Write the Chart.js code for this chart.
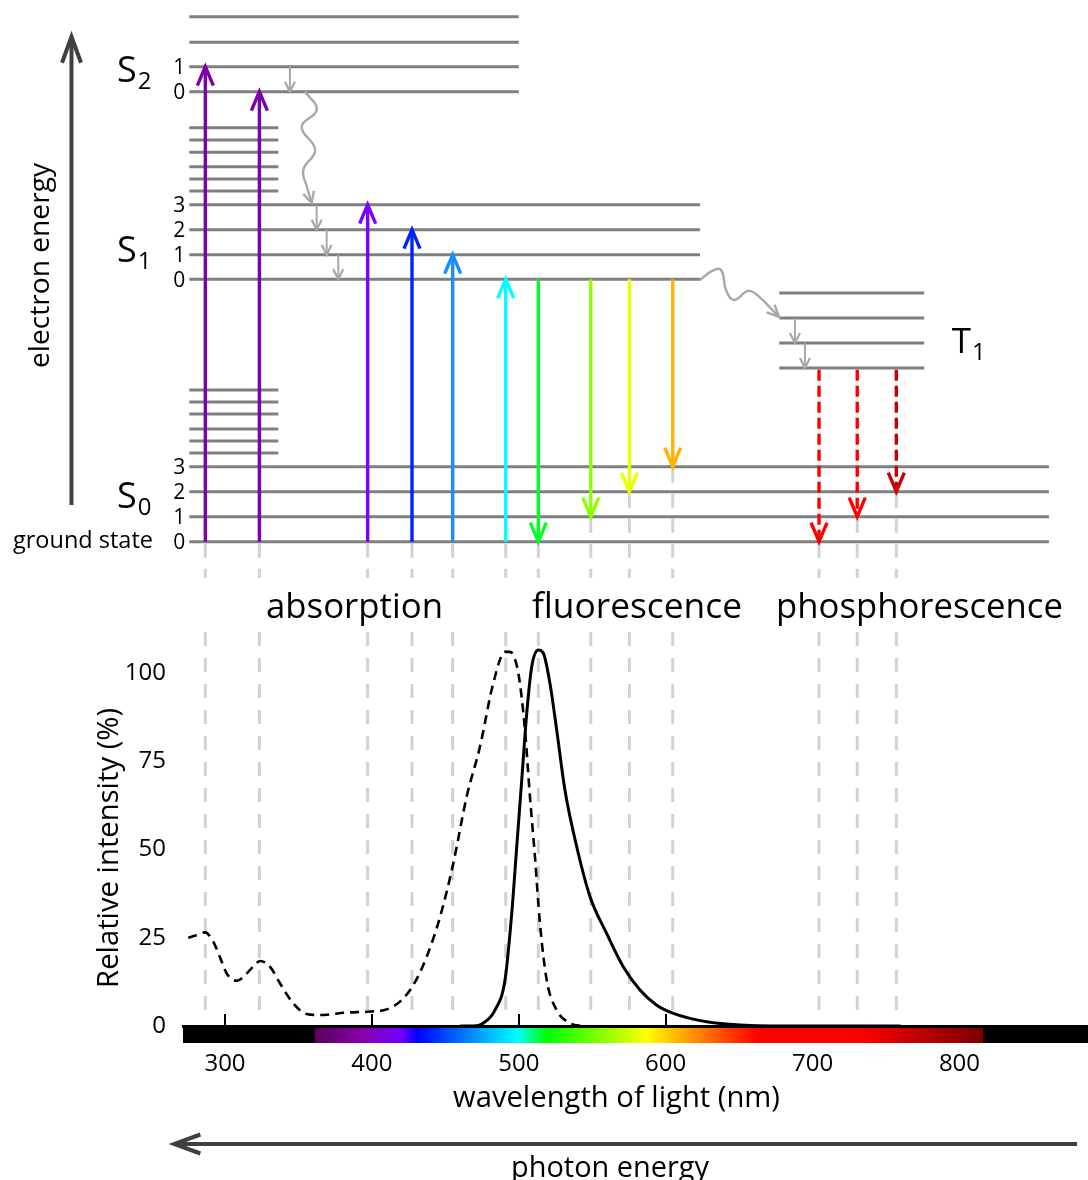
<!DOCTYPE html>
<html>
<head>
<meta charset="utf-8">
<style>
html,body{margin:0;padding:0;background:#ffffff;}
#wrap{width:1088px;height:1180px;position:relative;}
canvas{display:block;}
</style>
<script src="https://cdn.jsdelivr.net/npm/chart.js@4"></script>
</head>
<body>
<div id="wrap"><canvas id="c" width="1088" height="1180"></canvas></div>
<script>
// ---------------- DATA ----------------
// Energy levels (arbitrary energy units, S0 v=0 is 0)
const S0_levels = [0, 1, 2, 3];
const S1_levels = [10.5, 11.48, 12.48, 13.48];
const S2_levels = [18.0, 19.0, 19.98, 21.0];
const T1_levels = [6.95, 7.95, 8.95, 9.95];
const S0_upper = [3.55, 4.03, 4.51, 5.11, 5.59, 6.07];
const S1_upper = [14.03, 14.51, 15.0, 15.58, 16.07, 16.56];
const S0_labels = ['0', '1', '2', '3'];
const S1_labels = ['0', '1', '2', '3'];
const S2_labels = ['0', '1'];

// Horizontal extent of the level lines (wavelength axis, nm)
const levelStartNm = 275.7;
const S0_endNm = 860.9;
const S1_endNm = 623.4;
const S2_endNm = 500.0;
const upperEndNm = 336.3;
const T1_startNm = 677.3;
const T1_endNm = 776.0;

// Radiative transitions (wavelength nm, from energy, to energy)
const absorptionNm = [286.6, 323.4, 397.1, 427.3, 455.0, 491.1];
const absorptionFrom = [0, 0, 0, 0, 0, 0];
const absorptionTo = [19.0, 18.0, 13.48, 12.48, 11.48, 10.5];
const absorptionColors = ['#7d00a8', '#7d00a8', '#7a00ff', '#0022ff', '#1a8cff', '#00ffff'];

const fluorescenceNm = [513.3, 549.0, 575.3, 604.8];
const fluorescenceFrom = [10.5, 10.5, 10.5, 10.5];
const fluorescenceTo = [0, 1, 2, 3];
const fluorescenceColors = ['#00ff22', '#8cff00', '#eaff00', '#ffb400'];

const phosphorescenceNm = [704.4, 730.4, 757.0];
const phosphorescenceFrom = [6.88, 6.88, 6.88];
const phosphorescenceTo = [0, 1, 2];
const phosphorescenceColors = ['#ff0000', '#ff0000', '#c80000'];

// Vibrational relaxation (small grey arrows)
const relaxNm = [344.2, 362.4, 369.2, 377.1, 688.0, 694.8];
const relaxFrom = [19.0, 13.48, 12.48, 11.48, 8.95, 7.95];
const relaxTo = [18.0, 12.48, 11.48, 10.5, 7.95, 6.95];

// Internal conversion S2 -> S1 (wavy)
const icNm = [354.5, 362.4, 352.2, 361.3, 353.3, 355.8, 359.0];
const icE = [18.0, 17.27, 16.6, 15.67, 14.87, 14.19, 13.55];
// Intersystem crossing S1 -> T1 (wavy)
const iscNm = [623.4, 631.6, 637.7, 641.1, 646.5, 656.1, 662.2, 677.2];
const iscE = [10.47, 10.83, 10.87, 10.07, 9.67, 10.03, 9.87, 8.99];

// Spectra (wavelength nm, relative intensity %)
const absorbanceNm = [275, 280, 286.4, 292, 297, 301.1, 308, 314.8, 320, 323.8, 330.6, 337.4, 346.5, 355.6, 364.7, 382.8, 398.7, 410, 419.1, 428.2, 437.3, 446.4, 455.4, 464.5, 473.6, 482.6, 490.6, 494, 499.7, 504.2, 507.6, 511, 514.4, 519, 525.8, 534.9, 543.9];
const absorbanceVal = [25.0, 25.6, 26.5, 23.9, 19.0, 14.9, 12.8, 14.9, 17.2, 18.4, 16.8, 12.1, 6.4, 3.4, 3.1, 3.8, 4.1, 4.7, 6.9, 11.6, 19.6, 30.9, 46.0, 64.9, 79.1, 97.0, 105.9, 105.9, 99.8, 83.8, 64.9, 47.9, 29.1, 13.0, 4.5, 0.8, 0];
const emissionNm = [460, 469, 475.8, 483.8, 490.6, 495.2, 498.6, 502, 505.4, 508.8, 513.3, 516.7, 521.2, 525.8, 531.4, 539.4, 548.5, 559.8, 571.1, 582.5, 593.9, 605.2, 627.9, 650.6, 690, 760];
const emissionVal = [0, 0, 0.8, 4.5, 13.0, 31.9, 50.8, 69.6, 88.5, 101.7, 106.4, 105.5, 97.0, 83.8, 66.8, 50.8, 36.6, 26.2, 16.8, 10.2, 5.9, 3.6, 1.2, 0.3, 0, 0];

// Tick labels
const xTickValues = [300, 400, 500, 600, 700, 800];
const xTickMarks = [300, 400, 500, 600];
const yTickValues = [0, 25, 50, 75, 100];

// Visible-spectrum colour band (nm, colour)
const bandNm = [361, 395, 420, 431, 465, 499, 519, 555, 587, 620, 662, 732, 816];
const bandColors = ['#5a005a', '#8a00b0', '#7000ff', '#0000ff', '#0080ff', '#00ffff', '#00ff00', '#80ff00', '#ffff00', '#ff8c00', '#ff0000', '#ff0000', '#7a0000'];

// ---------------- LAYOUT CONSTANTS ----------------
const FONT = "'Open Sans', 'DejaVu Sans', sans-serif";
const X_MIN = 271.4, X_MAX = 887.5;
const I_MIN = 0, I_MAX = 290.4;
const E_MIN = -19.372, E_MAX = 21.668;
const GUIDE_GAP_TOP_E = -1.45;   // guides stop here (energy units)
const GUIDE_GAP_BOTTOM_I = 111.5; // guides resume here (intensity units)
const GUIDE_END_I = 3.5;

// ---------------- BUILD DATASETS ----------------
const datasets = [];
function seg(x1, y1, x2, y2) { return [{x: x1, y: y1}, {x: x2, y: y2}]; }

// guides (lowest layer)
function addGuide(nm, lowE) {
  datasets.push({data: seg(nm, lowE - 0.08, nm, GUIDE_GAP_TOP_E), yAxisID: 'yE', borderColor: '#d2d2d2', borderWidth: 3, borderDash: [14, 11], order: 9});
  datasets.push({data: seg(nm, GUIDE_GAP_BOTTOM_I, nm, GUIDE_END_I), yAxisID: 'y', borderColor: '#d2d2d2', borderWidth: 3, borderDash: [14, 12], order: 9});
}
absorptionNm.forEach((nm, i) => addGuide(nm, absorptionFrom[i]));
fluorescenceNm.forEach((nm, i) => addGuide(nm, fluorescenceTo[i]));
phosphorescenceNm.forEach((nm, i) => addGuide(nm, phosphorescenceTo[i]));

// level lines
function addLevel(E, from, to) {
  datasets.push({data: seg(from, E, to, E), yAxisID: 'yE', borderColor: '#7f7f7f', borderWidth: 3, order: 8});
}
S0_levels.forEach(E => addLevel(E, levelStartNm, S0_endNm));
S0_upper.forEach(E => addLevel(E, levelStartNm, upperEndNm));
S1_levels.forEach(E => addLevel(E, levelStartNm, S1_endNm));
S1_upper.forEach(E => addLevel(E, levelStartNm, upperEndNm));
S2_levels.forEach(E => addLevel(E, levelStartNm, S2_endNm));
T1_levels.forEach(E => addLevel(E, T1_startNm, T1_endNm));

// spectra
datasets.push({data: absorbanceNm.map((x, i) => ({x, y: absorbanceVal[i]})), yAxisID: 'y', borderColor: '#000', borderWidth: 2.6, borderDash: [9, 6], cubicInterpolationMode: 'monotone', order: 5});
datasets.push({data: emissionNm.map((x, i) => ({x, y: emissionVal[i]})), yAxisID: 'y', borderColor: '#000', borderWidth: 3, cubicInterpolationMode: 'monotone', order: 5});

// relaxation arrows
relaxNm.forEach((nm, i) => datasets.push({data: seg(nm, relaxFrom[i], nm, relaxTo[i]), yAxisID: 'yE', borderColor: '#a8a8a8', borderWidth: 2, order: 3, arrow: {hw: 5, len: 10, lw: 2.2}}));
datasets.push({data: icNm.map((x, i) => ({x, y: icE[i]})), yAxisID: 'yE', borderColor: '#a8a8a8', borderWidth: 2.4, tension: 0.45, order: 3, arrow: {hw: 5.5, len: 11, lw: 2.4}});
datasets.push({data: iscNm.map((x, i) => ({x, y: iscE[i]})), yAxisID: 'yE', borderColor: '#a8a8a8', borderWidth: 2.4, tension: 0.45, order: 3, arrow: {hw: 5.5, len: 12, lw: 2.4}});

// radiative arrows
function addArrow(nm, from, to, color, dashed) {
  datasets.push({data: seg(nm, from, nm, to), yAxisID: 'yE', borderColor: color, borderWidth: 3.4, borderDash: dashed ? [11, 5] : [], order: 1, arrow: {hw: 8, len: 19, lw: 3.4}});
}
absorptionNm.forEach((nm, i) => addArrow(nm, absorptionFrom[i], absorptionTo[i], absorptionColors[i], false));
fluorescenceNm.forEach((nm, i) => addArrow(nm, fluorescenceFrom[i], fluorescenceTo[i], fluorescenceColors[i], false));
phosphorescenceNm.forEach((nm, i) => addArrow(nm, phosphorescenceFrom[i], phosphorescenceTo[i], phosphorescenceColors[i], true));

// ---------------- DRAW HELPERS ----------------
function chevron(ctx, tip, from, hw, len, lw, color) {
  const dx = tip.x - from.x, dy = tip.y - from.y;
  const d = Math.hypot(dx, dy) || 1;
  const ux = dx / d, uy = dy / d;
  const nx = -uy, ny = ux;
  ctx.save();
  ctx.setLineDash([]);
  ctx.strokeStyle = color;
  ctx.lineWidth = lw;
  ctx.lineJoin = 'miter';
  ctx.lineCap = 'butt';
  ctx.beginPath();
  ctx.moveTo(tip.x - ux * len + nx * hw, tip.y - uy * len + ny * hw);
  ctx.lineTo(tip.x, tip.y);
  ctx.lineTo(tip.x - ux * len - nx * hw, tip.y - uy * len - ny * hw);
  ctx.stroke();
  ctx.restore();
}
function fitFont(ctx, text, width, weight) {
  ctx.font = (weight || '') + ' 100px ' + FONT;
  const w = ctx.measureText(text).width;
  return 100 * width / w;
}
function drawText(ctx, text, x, y, size, align, baseline, color) {
  ctx.font = size.toFixed(2) + 'px ' + FONT;
  ctx.textAlign = align || 'left';
  ctx.textBaseline = baseline || 'alphabetic';
  ctx.fillStyle = color || '#000';
  ctx.fillText(text, x, y);
}
function stateLabel(ctx, main, sub, x, baseline, mainSize, subSize) {
  drawText(ctx, main, x, baseline, mainSize, 'left', 'alphabetic');
  ctx.font = mainSize + 'px ' + FONT;
  const w = ctx.measureText(main).width;
  drawText(ctx, sub, x + w + 1, baseline + 7, subSize, 'left', 'alphabetic');
}

const diagramPlugin = {
  id: 'diagram',
  afterDatasetsDraw(chart) {
    const ctx = chart.ctx;
    const xs = chart.scales.x;
    const area = chart.chartArea;
    // arrow heads
    chart.data.datasets.forEach((ds, i) => {
      if (!ds.arrow) return;
      const pts = chart.getDatasetMeta(i).data;
      const tip = pts[pts.length - 1], prev = pts[pts.length - 2];
      chevron(ctx, {x: tip.x, y: tip.y}, {x: prev.x, y: prev.y}, ds.arrow.hw, ds.arrow.len, ds.arrow.lw, ds.borderColor);
    });
    // spectrum colour band
    const bandTop = area.bottom + 2, bandH = 15;
    ctx.save();
    ctx.fillStyle = '#000';
    ctx.fillRect(area.left, bandTop, area.right - area.left, bandH);
    const g0 = xs.getPixelForValue(bandNm[0]), g1 = xs.getPixelForValue(bandNm[bandNm.length - 1]);
    const grad = ctx.createLinearGradient(g0, 0, g1, 0);
    bandNm.forEach((nm, i) => grad.addColorStop((xs.getPixelForValue(nm) - g0) / (g1 - g0), bandColors[i]));
    ctx.fillStyle = grad;
    ctx.fillRect(g0, bandTop, g1 - g0, bandH);
    // tick marks (pointing up)
    ctx.strokeStyle = '#000';
    ctx.lineWidth = 2;
    xTickMarks.forEach(v => {
      const px = Math.round(xs.getPixelForValue(v));
      ctx.beginPath();
      ctx.moveTo(px, area.bottom - 12);
      ctx.lineTo(px, area.bottom);
      ctx.stroke();
    });
    ctx.restore();
  },
  afterDraw(chart) {
    const ctx = chart.ctx;
    const xs = chart.scales.x, yE = chart.scales.yE, yI = chart.scales.y;
    const area = chart.chartArea;
    ctx.save();
    // level numbers
    const numX = xs.getPixelForValue(levelStartNm) - 4;
    const nums = [[S0_levels, S0_labels], [S1_levels, S1_labels], [S2_levels, S2_labels]];
    nums.forEach(([lv, lb]) => lb.forEach((t, i) => drawText(ctx, t, numX, yE.getPixelForValue(lv[i]) + 1.5, 21, 'right', 'middle')));
    // state labels
    const sx = area.left - 66;
    stateLabel(ctx, 'S', '2', sx, yE.getPixelForValue(18.39), 36, 24);
    stateLabel(ctx, 'S', '1', sx, yE.getPixelForValue(11.19), 36, 24);
    stateLabel(ctx, 'S', '0', sx, yE.getPixelForValue(1.35), 36, 24);
    stateLabel(ctx, 'T', '1', xs.getPixelForValue(794.7), yE.getPixelForValue(7.56), 35, 24);
    // ground state
    drawText(ctx, 'ground state', area.left - 30, yE.getPixelForValue(-0.25), fitFont(ctx, 'ground state', 140), 'right', 'alphabetic');
    // process labels
    const lblY = yE.getPixelForValue(-3.05);
    drawText(ctx, 'absorption', 354.5, lblY, fitFont(ctx, 'absorption', 177), 'center');
    drawText(ctx, 'fluorescence', 637, lblY, fitFont(ctx, 'fluorescence', 210), 'center');
    drawText(ctx, 'phosphorescence', 919.5, lblY, fitFont(ctx, 'phosphorescence', 287), 'center');
    // axis titles
    ctx.save();
    ctx.translate(110, yI.getPixelForValue(50.4));
    ctx.rotate(-Math.PI / 2);
    drawText(ctx, 'Relative intensity (%)', 0, 0, fitFont(ctx, 'Relative intensity (%)', 280), 'center', 'middle');
    ctx.restore();
    ctx.save();
    ctx.translate(41, yE.getPixelForValue(11.05));
    ctx.rotate(-Math.PI / 2);
    drawText(ctx, 'electron energy', 0, 0, fitFont(ctx, 'electron energy', 205), 'center', 'middle');
    ctx.restore();
    drawText(ctx, 'wavelength of light (nm)', 616.5, area.bottom + 81, fitFont(ctx, 'wavelength of light (nm)', 327), 'center');
    drawText(ctx, 'photon energy', 610, area.bottom + 151, fitFont(ctx, 'photon energy', 198), 'center');
    // electron energy arrow
    const ax = area.left - 111.5;
    const aTop = yE.getPixelForValue(20.2), aBot = yE.getPixelForValue(1.47);
    ctx.strokeStyle = '#404040';
    ctx.lineWidth = 4;
    ctx.beginPath(); ctx.moveTo(ax, aBot); ctx.lineTo(ax, aTop + 2); ctx.stroke();
    chevron(ctx, {x: ax, y: aTop}, {x: ax, y: aBot}, 9.5, 26, 4, '#404040');
    // photon energy arrow
    const py = area.bottom + 118;
    const pR = xs.getPixelForValue(880), pL = xs.getPixelForValue(265.5);
    ctx.beginPath(); ctx.moveTo(pR, py); ctx.lineTo(pL + 2, py); ctx.stroke();
    chevron(ctx, {x: pL, y: py}, {x: pR, y: py}, 9.5, 26, 4, '#404040');
    ctx.restore();
  }
};

new Chart(document.getElementById('c'), {
  type: 'line',
  data: {datasets},
  options: {
    responsive: false,
    animation: false,
    devicePixelRatio: 1,
    events: [],
    layout: {padding: 0},
    elements: {point: {radius: 0}, line: {fill: false, borderCapStyle: 'butt'}},
    plugins: {legend: {display: false}, tooltip: {enabled: false}},
    scales: {
      x: {
        type: 'linear', min: X_MIN, max: X_MAX,
        grid: {display: false, drawTicks: false},
        border: {display: true, color: '#000', width: 3},
        afterBuildTicks: s => { s.ticks = xTickValues.map(v => ({value: v})); },
        ticks: {autoSkip: false, maxRotation: 0, padding: 24, color: '#000', font: {family: FONT, size: 24}},
        afterFit: s => { s.height = 154; s.paddingLeft = 0; s.paddingRight = 0; }
      },
      y: {
        type: 'linear', position: 'left', min: I_MIN, max: I_MAX,
        grid: {display: false, drawTicks: false},
        border: {display: false},
        afterBuildTicks: s => { s.ticks = yTickValues.map(v => ({value: v})); },
        ticks: {autoSkip: false, padding: 17, color: '#000', font: {family: FONT, size: 24}},
        afterFit: s => { s.width = 183; s.paddingTop = 0; s.paddingBottom = 0; }
      },
      yE: {
        type: 'linear', position: 'left', display: false, min: E_MIN, max: E_MAX
      }
    }
  },
  plugins: [diagramPlugin]
});
</script>
</body>
</html>
